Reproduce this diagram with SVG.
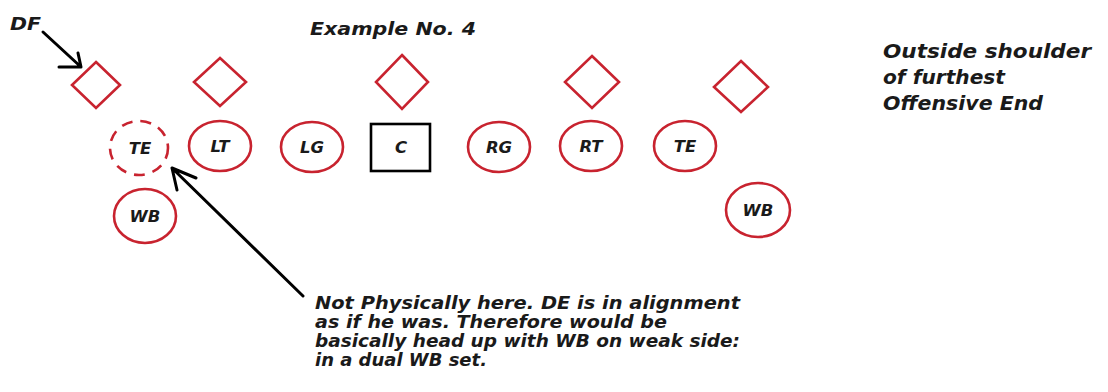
<svg xmlns="http://www.w3.org/2000/svg" width="1108" height="392" viewBox="0 0 1108 392">
<style>
.dl{fill:none;stroke:#c8232f;stroke-width:2.6}
.pl{fill:#fff;stroke:#c8232f;stroke-width:2.6}
.dash{stroke-dasharray:11 8}
.lbl{font-family:"DejaVu Sans",sans-serif;font-weight:bold;font-style:italic;font-size:16.5px;fill:#1a1a1a;text-anchor:middle}
.txt{font-family:"DejaVu Sans",sans-serif;font-weight:bold;font-style:italic;fill:#1a1a1a}
.arr{fill:none;stroke:#000;stroke-width:3;stroke-linecap:round;stroke-linejoin:round}
</style>
<rect width="1108" height="392" fill="#fff"/>
<text class="txt" x="10" y="30" font-size="17" textLength="31" lengthAdjust="spacingAndGlyphs">DF</text>
<text class="txt" x="310" y="35" font-size="18" textLength="166" lengthAdjust="spacingAndGlyphs">Example No. 4</text>
<g id="note-right">
<text class="txt" x="883" y="58" font-size="19.5" textLength="208" lengthAdjust="spacingAndGlyphs">Outside shoulder</text>
<text class="txt" x="883" y="84" font-size="19.5" textLength="122" lengthAdjust="spacingAndGlyphs">of furthest</text>
<text class="txt" x="883" y="110" font-size="19.5" textLength="160" lengthAdjust="spacingAndGlyphs">Offensive End</text>
</g>
<g id="note-bottom">
<text class="txt" x="315" y="309" font-size="17" textLength="425" lengthAdjust="spacingAndGlyphs">Not Physically here. DE is in alignment</text>
<text class="txt" x="315" y="328" font-size="17" textLength="352" lengthAdjust="spacingAndGlyphs">as if he was. Therefore would be</text>
<text class="txt" x="315" y="347" font-size="17" textLength="425" lengthAdjust="spacingAndGlyphs">basically head up with WB on weak side:</text>
<text class="txt" x="315" y="366" font-size="17" textLength="172" lengthAdjust="spacingAndGlyphs">in a dual WB set.</text>
</g>
<g id="de1"><polygon class="dl" points="96,62 120,85 96,108 72,85"/></g>
<g id="de2"><polygon class="dl" points="220,58 246,82 220,106 194,82"/></g>
<g id="de3"><polygon class="dl" points="402,55 428,82 402,109 376,82"/></g>
<g id="de4"><polygon class="dl" points="592,56 619,82 592,108 565,82"/></g>
<g id="de5"><polygon class="dl" points="741,61 768,87 741,112 714,87"/></g>
<g id="te-left"><ellipse class="dl dash" cx="139" cy="148" rx="29" ry="27"/><text class="lbl" x="140" y="154">TE</text></g>
<g id="lt"><ellipse class="pl" cx="220" cy="146" rx="31" ry="25"/><text class="lbl" x="220" y="152">LT</text></g>
<g id="lg"><ellipse class="pl" cx="312" cy="147" rx="31" ry="25"/><text class="lbl" x="312" y="153">LG</text></g>
<g id="c"><rect x="371" y="124" width="59" height="47" fill="#fff" stroke="#000" stroke-width="2.6"/><text class="lbl" x="401" y="153">C</text></g>
<g id="rg"><ellipse class="pl" cx="499" cy="147" rx="31" ry="25"/><text class="lbl" x="499" y="153">RG</text></g>
<g id="rt"><ellipse class="pl" cx="591" cy="146" rx="31" ry="25"/><text class="lbl" x="591" y="152">RT</text></g>
<g id="te-right"><ellipse class="pl" cx="685" cy="146" rx="31" ry="25"/><text class="lbl" x="685" y="152">TE</text></g>
<g id="wb-left"><ellipse class="pl" cx="145" cy="216" rx="31" ry="27"/><text class="lbl" x="145" y="222">WB</text></g>
<g id="wb-right"><ellipse class="pl" cx="758" cy="210" rx="32" ry="27"/><text class="lbl" x="758" y="216">WB</text></g>
<g id="connectors">
<path class="arr" d="M43,32 L81,67 M59,67 L81,67 L78,53"/>
<path class="arr" d="M303,296 L172,168 M196,178 L172,168 L177,190"/>
</g>
</svg>
